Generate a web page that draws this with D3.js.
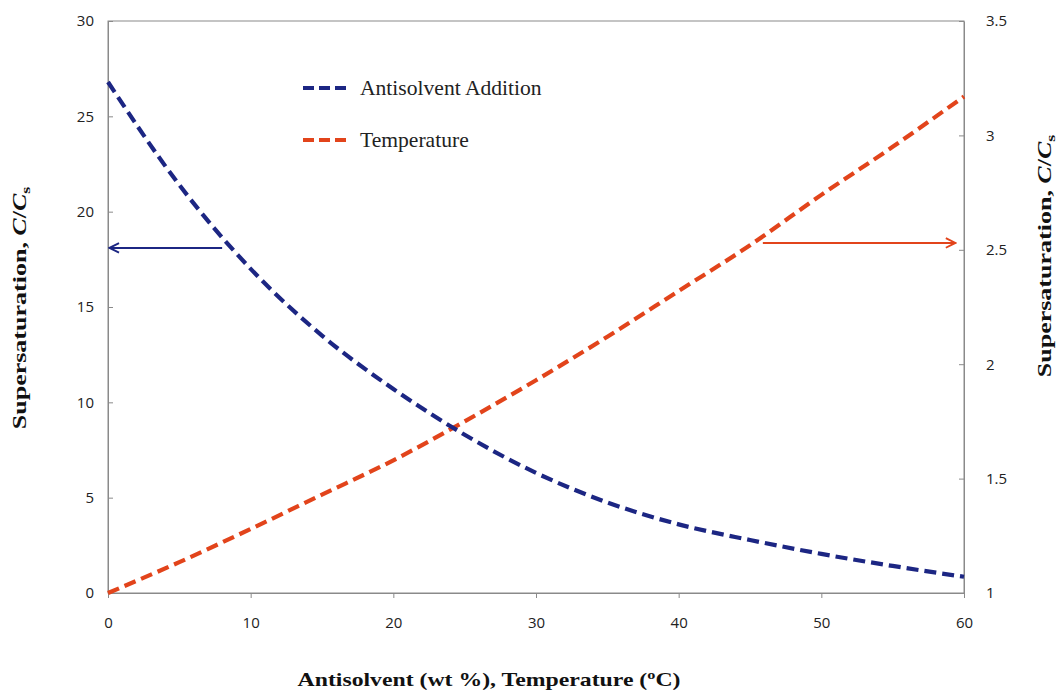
<!DOCTYPE html>
<html>
<head>
<meta charset="utf-8">
<script src="https://cdn.jsdelivr.net/npm/d3@7"></script>
<style>
  body { margin: 0; background: #fff; }
  .tick text { font-family: "Open Sans", "Liberation Sans", sans-serif; font-size: 15px; fill: #222; }
  .title { font-family: "Liberation Serif", "Times New Roman", serif; font-weight: bold; font-size: 19px; fill: #111; }
  .legend { font-family: "Liberation Serif", "Times New Roman", serif; font-size: 20px; fill: #222; }
</style>
</head>
<body>
<script>
// values
var xValues = [0, 5, 10, 15, 20, 25, 30, 35, 40, 45, 50, 55, 60];
var antisolvent = [26.8, 21.4, 17.0, 13.5, 10.7, 8.3, 6.3, 4.75, 3.6, 2.78, 2.05, 1.42, 0.85];
var temperature = [1.0, 1.135, 1.28, 1.43, 1.58, 1.75, 1.93, 2.12, 2.32, 2.52, 2.74, 2.95, 3.17];

var xTicks = [0, 10, 20, 30, 40, 50, 60];
var leftTicks = [0, 5, 10, 15, 20, 25, 30];
var rightTicks = [1, 1.5, 2, 2.5, 3, 3.5];

var seriesNames = ["Antisolvent Addition", "Temperature"];
var colors = ["#1c2683", "#e2441b"];

// arrows: [x start, x end, value]
var leftArrow = [8.0, 0.1, 18.1];
var rightArrow = [45.9, 59.4, 2.53];

var width = 1060, height = 691;
var margin = {left: 108, right: 96, top: 21, bottom: 98};

var svg = d3.select("body").append("svg")
    .attr("width", width)
    .attr("height", height);

var x = d3.scaleLinear().domain([0, 60]).range([margin.left, width - margin.right]);
var yL = d3.scaleLinear().domain([0, 30]).range([height - margin.bottom, margin.top]);
var yR = d3.scaleLinear().domain([1, 3.5]).range([height - margin.bottom, margin.top]);

var defs = svg.append("defs");
colors.forEach(function(c, i) {
    defs.append("marker")
        .attr("id", "arrow" + i)
        .attr("viewBox", "0 0 10 10")
        .attr("refX", 9).attr("refY", 5)
        .attr("markerWidth", 6).attr("markerHeight", 6)
        .attr("orient", "auto")
        .append("path")
        .attr("d", "M1,1 L9,5 L1,9")
        .attr("fill", "none")
        .attr("stroke", c)
        .attr("stroke-width", 1.6);
});

// frame
svg.append("rect")
    .attr("x", x(0)).attr("y", yL(30))
    .attr("width", x(60) - x(0)).attr("height", yL(0) - yL(30))
    .attr("fill", "none").attr("stroke", "#8a8a8a").attr("stroke-width", 1);

function styleAxis(g) {
    g.select(".domain").attr("stroke", "#8a8a8a");
    g.selectAll(".tick line").attr("stroke", "#8a8a8a");
}

svg.append("g")
    .attr("transform", "translate(0," + yL(0) + ")")
    .call(d3.axisBottom(x).tickValues(xTicks).tickSize(5).tickPadding(19).tickSizeOuter(0))
    .call(styleAxis);

svg.append("g")
    .attr("transform", "translate(" + x(0) + ",0)")
    .call(d3.axisLeft(yL).tickValues(leftTicks).tickSize(-5).tickPadding(14).tickSizeOuter(0))
    .call(styleAxis);

svg.append("g")
    .attr("transform", "translate(" + x(60) + ",0)")
    .call(d3.axisRight(yR).tickValues(rightTicks).tickFormat(d3.format("~g"))
        .tickSize(-5).tickPadding(22).tickSizeOuter(0))
    .call(styleAxis);

// curves
var lineL = d3.line()
    .x(function(d, i) { return x(xValues[i]); })
    .y(function(d) { return yL(d); })
    .curve(d3.curveMonotoneX);
var lineR = d3.line()
    .x(function(d, i) { return x(xValues[i]); })
    .y(function(d) { return yR(d); })
    .curve(d3.curveMonotoneX);

svg.append("path")
    .attr("d", lineR(temperature))
    .attr("fill", "none")
    .attr("stroke", colors[1])
    .attr("stroke-width", 4.2)
    .attr("stroke-dasharray", "12,6");

svg.append("path")
    .attr("d", lineL(antisolvent))
    .attr("fill", "none")
    .attr("stroke", colors[0])
    .attr("stroke-width", 4.2)
    .attr("stroke-dasharray", "12,6");

// arrows
svg.append("line")
    .attr("x1", x(leftArrow[0])).attr("x2", x(leftArrow[1]))
    .attr("y1", yL(leftArrow[2])).attr("y2", yL(leftArrow[2]))
    .attr("stroke", colors[0]).attr("stroke-width", 2)
    .attr("marker-end", "url(#arrow0)");

svg.append("line")
    .attr("x1", x(rightArrow[0])).attr("x2", x(rightArrow[1]))
    .attr("y1", yR(rightArrow[2])).attr("y2", yR(rightArrow[2]))
    .attr("stroke", colors[1]).attr("stroke-width", 2)
    .attr("marker-end", "url(#arrow1)");

// legend
var legend = svg.append("g").attr("transform", "translate(303,88)");
seriesNames.forEach(function(name, i) {
    var row = legend.append("g").attr("transform", "translate(0," + (i * 52) + ")");
    row.append("line")
        .attr("x1", 0).attr("x2", 44).attr("y1", 0).attr("y2", 0)
        .attr("stroke", colors[i]).attr("stroke-width", 4.2)
        .attr("stroke-dasharray", "11,5");
    row.append("text")
        .attr("class", "legend")
        .attr("x", 57).attr("y", 7)
        .attr("transform", "translate(57,0) scale(1.08,1) translate(-57,0)")
        .text(name);
});

// axis titles (the original lettering is stretched along its length)
var xt = svg.append("text")
    .attr("class", "title")
    .attr("text-anchor", "middle")
    .attr("transform", "translate(489,686) scale(1.25,1)");
xt.append("tspan").text("Antisolvent (wt %), Temperature (");
xt.append("tspan").attr("font-size", "13px").attr("dy", -7).text("o");
xt.append("tspan").attr("dy", 7).text("C)");

function yTitle(tx, ty) {
    var t = svg.append("text")
        .attr("class", "title")
        .attr("text-anchor", "middle")
        .attr("transform", "translate(" + tx + "," + ty + ") rotate(-90) scale(1.37,1)");
    t.append("tspan").text("Supersaturation, ");
    t.append("tspan").attr("font-style", "italic").text("C");
    t.append("tspan").text("/");
    t.append("tspan").attr("font-style", "italic").text("C");
    t.append("tspan").attr("font-size", "13px").attr("dy", 4).text("s");
}
yTitle(26, 308);
yTitle(1051, 256);
</script>
</body>
</html>
